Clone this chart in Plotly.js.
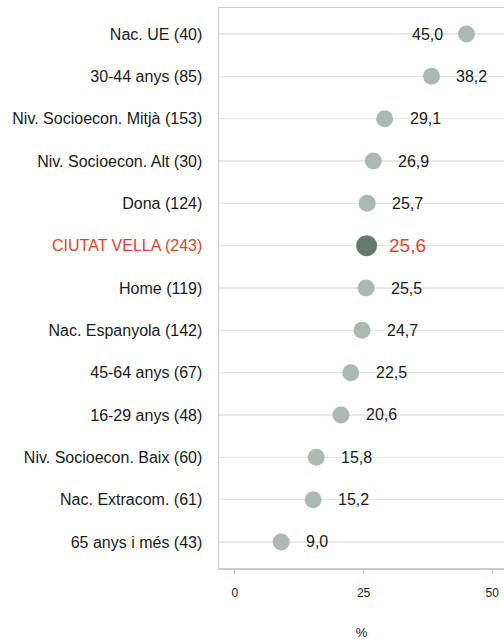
<!DOCTYPE html>
<html>
<head>
<meta charset="utf-8">
<script src="https://cdn.plot.ly/plotly-3.0.1.min.js"></script>
<style>html,body{margin:0;padding:0;background:#fff;}#chart{width:504px;height:640px;}</style>
</head>
<body>
<div id="chart"></div>
<script>
const categories = [
  "Nac. UE (40)",
  "30-44 anys (85)",
  "Niv. Socioecon. Mitjà (153)",
  "Niv. Socioecon. Alt (30)",
  "Dona (124)",
  "CIUTAT VELLA (243)",
  "Home (119)",
  "Nac. Espanyola (142)",
  "45-64 anys (67)",
  "16-29 anys (48)",
  "Niv. Socioecon. Baix (60)",
  "Nac. Extracom. (61)",
  "65 anys i més (43)"
];
const values = [45.0, 38.2, 29.1, 26.9, 25.7, 25.6, 25.5, 24.7, 22.5, 20.6, 15.8, 15.2, 9.0];
const highlight = "CIUTAT VELLA (243)";
const xTicks = [0, 25, 50];

const RED = "#e0452c";
const FONT = "Liberation Sans, Arial, sans-serif";
const isH = categories.map(c => c === highlight);
const idx = categories.map((c, i) => i);

const trace = {
  type: "scatter",
  mode: "markers",
  x: values,
  y: idx,
  marker: {
    size: isH.map(h => h ? 21 : 17),
    color: isH.map(h => h ? "#667a72" : "#aab9b1"),
    opacity: 1,
    line: {width: 0}
  },
  cliponaxis: false,
  hoverinfo: "skip"
};

const annotations = values.map((v, i) => {
  const left = i === 0;
  return {
    x: v,
    y: i,
    xref: "x",
    yref: "y",
    text: v.toFixed(1).replace(".", ","),
    showarrow: false,
    xanchor: left ? "right" : "left",
    yanchor: "middle",
    xshift: left ? -21 : (isH[i] ? 20.5 : 23),
    font: {family: FONT, size: isH[i] ? 19 : 16, color: isH[i] ? RED : "#1a1a1a"}
  };
});

const layout = {
  width: 504,
  height: 640,
  margin: {l: 219, r: 0, t: 8, b: 72},
  paper_bgcolor: "#ffffff",
  plot_bgcolor: "#ffffff",
  showlegend: false,
  font: {family: FONT, color: "#1a1a1a"},
  annotations: annotations,
  xaxis: {
    range: [-3.1, 52.3],
    tickvals: xTicks,
    ticktext: xTicks.map(String),
    ticks: "outside",
    ticklen: 4,
    tickcolor: "#cccccc",
    tickfont: {size: 12, color: "#1a1a1a"},
    ticklabelstandoff: 9,
    showgrid: false,
    zeroline: false,
    showline: true,
    linecolor: "#cccccc",
    linewidth: 1.5,
    mirror: true,
    title: {text: "%", font: {size: 13, color: "#1a1a1a"}, standoff: 32}
  },
  yaxis: {
    range: [12.615, -0.615],
    tickvals: idx,
    ticktext: categories.map(c => c === highlight ? '<span style="color:' + RED + '">' + c + '</span>' : c),
    tickfont: {size: 16, color: "#1a1a1a"},
    ticks: "",
    ticklabelstandoff: 12,
    showgrid: true,
    gridcolor: "#e6e6e6",
    gridwidth: 1.5,
    zeroline: false,
    showline: true,
    linecolor: "#cccccc",
    linewidth: 1.5
  }
};

Plotly.newPlot("chart", [trace], layout, {displayModeBar: false, staticPlot: true});
</script>
</body>
</html>
